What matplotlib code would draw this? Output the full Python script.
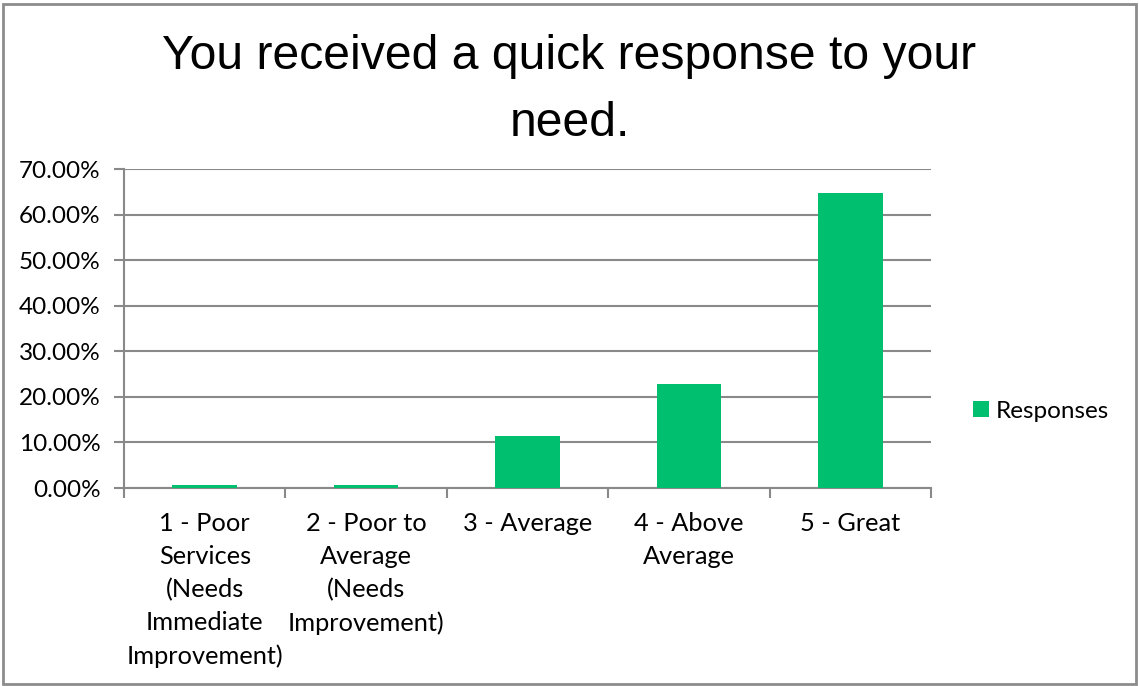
import matplotlib.pyplot as plt
from matplotlib.patches import Rectangle
from matplotlib.ticker import PercentFormatter

# survey answers, share of responses per rating
categories = ['1 - Poor\nServices\n(Needs\nImmediate\nImprovement)',
              '2 - Poor to\nAverage\n(Needs\nImprovement)',
              '3 - Average',
              '4 - Above\nAverage',
              '5 - Great']
responses = [0.57, 0.57, 11.36, 22.73, 64.77]
y_ticks = [0, 10, 20, 30, 40, 50, 60, 70]

bar_color = '#00BF6F'
grid_color = '#898989'
label_font = 'Lato'

fig = plt.figure(figsize=(11.39, 6.86), dpi=100)
ax = fig.add_axes([0.1089, 0.2886, 0.8174 - 0.1089, 0.4650])

x = list(range(len(categories)))
ax.bar(x, responses, width=0.4, color=bar_color, label='Responses', zorder=3)

ax.set_xlim(-0.5, len(categories) - 0.5)
ax.set_ylim(0, 70)
ax.set_yticks(y_ticks)
ax.yaxis.set_major_formatter(PercentFormatter(decimals=2))
ax.yaxis.grid(True, color=grid_color, linewidth=1.5, zorder=0)

# category names centred between the boundary ticks
ax.set_xticks([i - 0.5 for i in range(len(categories) + 1)])
ax.set_xticklabels([])
ax.set_xticks(x, minor=True)
ax.set_xticklabels(categories, minor=True, fontsize=18.3, family=label_font,
                   linespacing=1.52, va='top')
ax.tick_params(axis='x', which='minor', length=0, pad=17)
ax.tick_params(axis='x', which='major', length=7, width=1.5, color=grid_color)
ax.tick_params(axis='y', length=7, width=1.5, color=grid_color, pad=10,
               labelsize=17.5, labelfontfamily=label_font)

for side in ['top', 'right']:
    ax.spines[side].set_visible(False)
for side in ['left', 'bottom']:
    ax.spines[side].set_color(grid_color)
    ax.spines[side].set_linewidth(1.5)

leg = ax.legend(loc='center left', bbox_to_anchor=(1.025, 0.241), frameon=False,
                prop={'family': label_font, 'size': 17.5}, handlelength=0.65,
                handleheight=0.65, handletextpad=0.3)

fig.text(0.5, (686 - 136) / 686, 'You received a quick response to your\nneed.',
         ha='center', va='baseline', fontsize=34.7, family='Liberation Sans',
         linespacing=1.635)

# chart border
fig.patches.append(Rectangle((3 / 1139, 2 / 686), 1133 / 1139, 680 / 686,
                             transform=fig.transFigure, fill=False,
                             edgecolor='#8c8c8c', linewidth=2))

fig.savefig('out.png', dpi=100)
